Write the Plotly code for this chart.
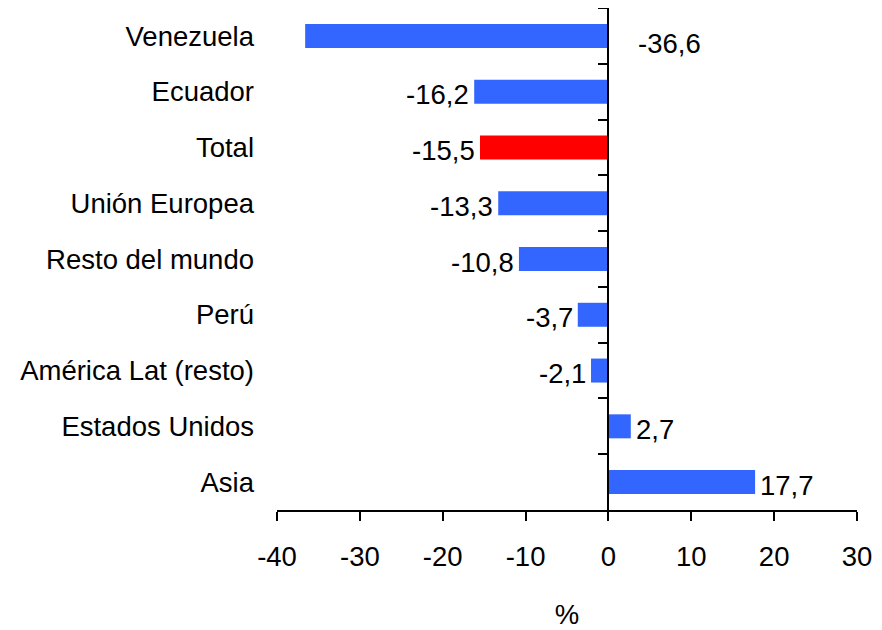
import plotly.graph_objects as go

categories = ["Venezuela", "Ecuador", "Total", "Unión Europea", "Resto del mundo",
              "Perú", "América Lat (resto)", "Estados Unidos", "Asia"]
values = [-36.6, -16.2, -15.5, -13.3, -10.8, -3.7, -2.1, 2.7, 17.7]
colors = ["#3366FF", "#3366FF", "#FF0000", "#3366FF", "#3366FF",
          "#3366FF", "#3366FF", "#3366FF", "#3366FF"]
x_ticks = [-40, -30, -20, -10, 0, 10, 20, 30]

FONT = "Liberation Sans, Arial, sans-serif"
FS = 27.5
n = len(categories)

fig = go.Figure()
fig.add_trace(go.Bar(
    x=values, y=categories, orientation="h",
    marker=dict(color=colors, line=dict(width=0)),
    width=0.43, hoverinfo="skip", showlegend=False,
))
# invisible trace carrying the category labels axis on the left
fig.add_trace(go.Scatter(
    x=[0] * n, y=categories, yaxis="y2", mode="markers",
    marker=dict(opacity=0), hoverinfo="skip", showlegend=False,
))

annotations = []
for i, (c, v) in enumerate(zip(categories, values)):
    txt = f"{v:.1f}".replace(".", ",")
    if i == 0:
        annotations.append(dict(x=0, y=c, xref="x", yref="y", text=txt,
                                showarrow=False, xanchor="left", xshift=28, yshift=-8,
                                font=dict(family=FONT, size=FS, color="black")))
    elif v < 0:
        annotations.append(dict(x=v, y=c, xref="x", yref="y", text=txt,
                                showarrow=False, xanchor="right", xshift=-3, yshift=-3,
                                font=dict(family=FONT, size=FS, color="black")))
    else:
        annotations.append(dict(x=v, y=c, xref="x", yref="y", text=txt,
                                showarrow=False, xanchor="left", xshift=3, yshift=-3,
                                font=dict(family=FONT, size=FS, color="black")))

zero_pos = (0 - x_ticks[0]) / (x_ticks[-1] - x_ticks[0])

fig.update_layout(
    width=874, height=622,
    margin=dict(l=269, r=25, t=0, b=120),
    paper_bgcolor="white", plot_bgcolor="white",
    font=dict(family=FONT, size=FS, color="black"),
    xaxis=dict(
        range=[x_ticks[0], x_ticks[-1]], tickvals=x_ticks,
        ticktext=[str(t) for t in x_ticks],
        showline=True, linecolor="black", linewidth=1.5,
        ticks="outside", ticklen=9, tickwidth=1.5, tickcolor="black",
        showgrid=False, zeroline=False, automargin=False,
        ticklabelstandoff=12,
        title=dict(text="%", standoff=34, font=dict(family=FONT, size=FS)),
        tickfont=dict(family=FONT, size=FS),
    ),
    yaxis=dict(
        type="category", categoryarray=categories, range=[n - 0.5, -0.5],
        anchor="free", position=zero_pos, automargin=False,
        showline=True, linecolor="black", linewidth=1.5,
        ticks="outside", tickson="boundaries", ticklen=10, tickwidth=1.5, tickcolor="black",
        showticklabels=False, showgrid=False, zeroline=False,
    ),
    yaxis2=dict(
        type="category", categoryarray=categories, range=[n - 0.5, -0.5],
        overlaying="y", anchor="x", side="left", automargin=False,
        showline=False, ticks="", showgrid=False, zeroline=False,
        tickfont=dict(family=FONT, size=FS), ticklabelstandoff=22,
    ),
    annotations=annotations,
)

fig.write_html("out.html")
